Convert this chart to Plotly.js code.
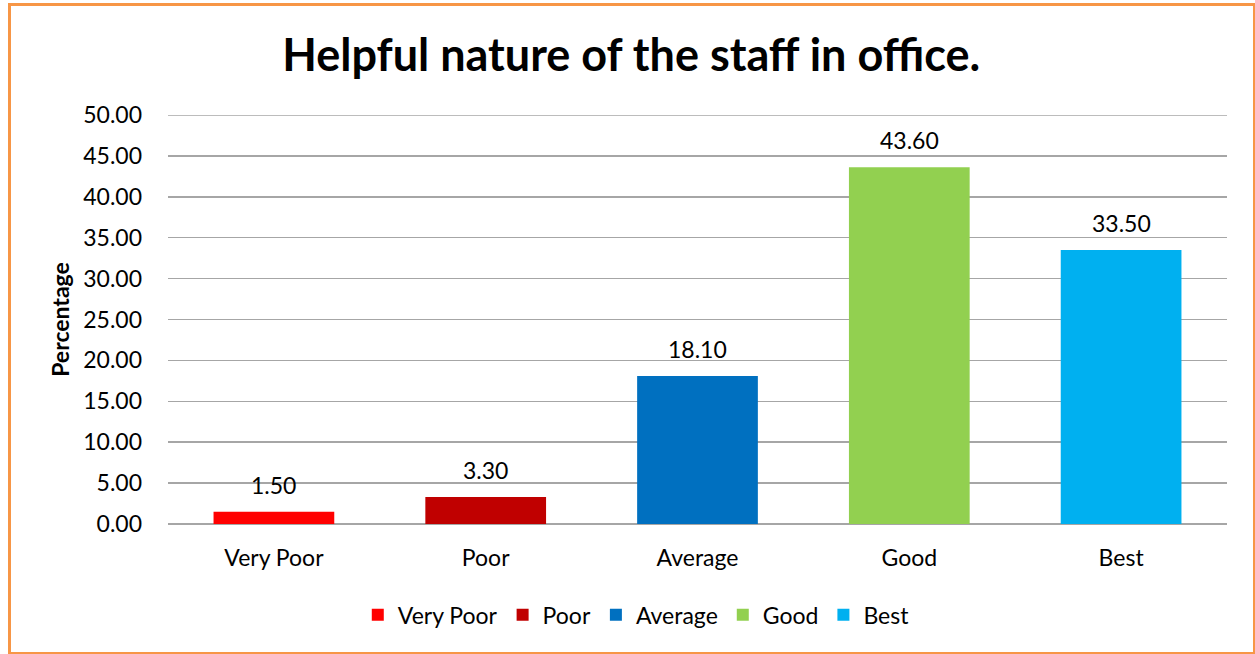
<!DOCTYPE html>
<html>
<head>
<meta charset="utf-8">
<script src="https://cdn.plot.ly/plotly-3.0.1.min.js"></script>
<style>
  html, body { margin: 0; padding: 0; background: #ffffff; }
  #frame { position: absolute; left: 8px; top: 3px; width: 1247px; height: 651px; border: 3px solid #F79646; border-right-width: 2px; border-bottom-width: 2px; box-sizing: border-box; pointer-events: none; z-index: 10; }
  #chart { position: absolute; left: 0; top: 0; width: 1255px; height: 654px; }
</style>
</head>
<body>
<div id="chart"></div>
<div id="frame"></div>
<script>
const categories = ["Very Poor", "Poor", "Average", "Good", "Best"];
const values = [1.50, 3.30, 18.10, 43.60, 33.50];
const colors = ["#FF0000", "#C00000", "#0070C0", "#92D050", "#00B0F0"];
const yTicks = [0, 5, 10, 15, 20, 25, 30, 35, 40, 45, 50];
const yTickLabels = yTicks.map(v => v.toFixed(2));

const FONT = "Lato, 'Open Sans', sans-serif";
const yMax = yTicks[yTicks.length - 1];

const traces = categories.map((c, i) => ({
  type: "bar",
  name: c,
  x: [c],
  y: [values[i]],
  width: 0.57,
  marker: { color: colors[i] },
  hoverinfo: "x+y"
}));

const annotations = categories.map((c, i) => ({
  x: c,
  y: values[i],
  xref: "x",
  yref: "y",
  text: values[i].toFixed(2),
  showarrow: false,
  yanchor: "middle",
  yshift: 27,
  font: { family: FONT, size: 23, color: "#000000" }
}));

const layout = {
  width: 1255,
  height: 654,
  margin: { l: 168, r: 28, t: 115, b: 130 },
  paper_bgcolor: "#ffffff",
  plot_bgcolor: "#ffffff",
  barmode: "overlay",
  font: { family: FONT, size: 23, color: "#000000" },
  title: {
    text: "<b>Helpful nature of the staff in office.</b>",
    font: { family: FONT, size: 45, color: "#000000" },
    x: 0.503, xref: "container", xanchor: "center",
    y: 0.915, yref: "container", yanchor: "middle"
  },
  annotations: annotations,
  shapes: [{
    type: "line", layer: "below",
    xref: "paper", x0: 0, x1: 1,
    yref: "y", y0: yMax, y1: yMax,
    line: { color: "#A6A6A6", width: 1.5 }
  }],
  xaxis: {
    type: "category",
    categoryorder: "array",
    categoryarray: categories,
    showgrid: false,
    showline: false,
    zeroline: false,
    ticks: "",
    tickfont: { family: FONT, size: 23, color: "#000000" },
    ticklabelstandoff: 18
  },
  yaxis: {
    range: [0, yMax],
    tickvals: yTicks,
    ticktext: yTickLabels,
    showgrid: true,
    gridcolor: "#A6A6A6",
    gridwidth: 1.5,
    zeroline: true,
    zerolinecolor: "#A6A6A6",
    zerolinewidth: 1.5,
    showline: false,
    ticks: "",
    tickfont: { family: FONT, size: 23, color: "#000000" },
    ticklabelstandoff: 25,
    title: {
      text: "<b>Percentage</b>",
      font: { family: FONT, size: 23, color: "#000000" },
      standoff: 7
    }
  },
  showlegend: true,
  legend: {
    orientation: "h",
    x: 0.507, xref: "container", xanchor: "center",
    y: 0.06, yref: "container", yanchor: "middle",
    font: { family: FONT, size: 23, color: "#000000" },
    itemwidth: 30,
    traceorder: "normal"
  }
};

Plotly.newPlot("chart", traces, layout, { displayModeBar: false, staticPlot: true });
</script>
</body>
</html>
